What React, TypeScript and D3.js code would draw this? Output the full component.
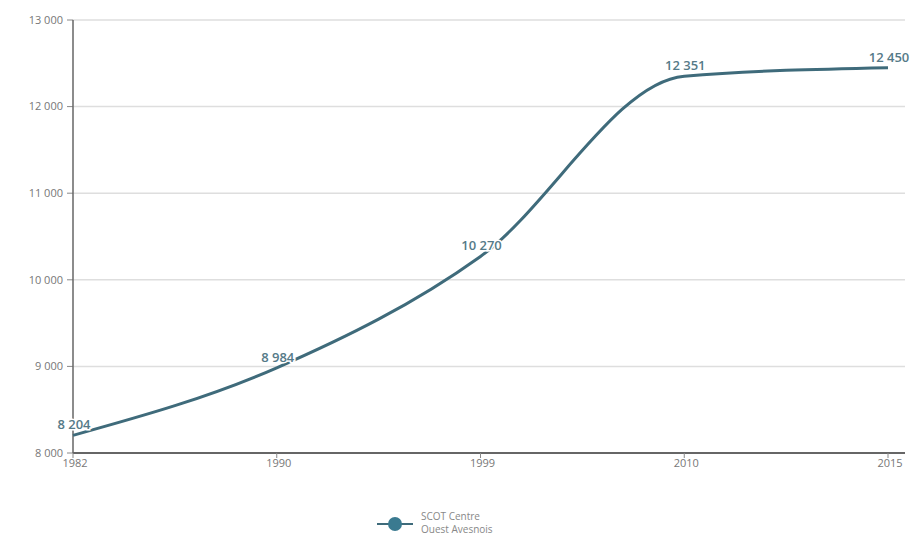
import React from "react";
import * as d3 from "d3";

const years = ["1982", "1990", "1999", "2010", "2015"];
const values = [8204, 8984, 10270, 12351, 12450];
const yTicks = [8000, 9000, 10000, 11000, 12000, 13000];
const seriesName = ["SCOT Centre", "Ouest Avesnois"];

const W = 917;
const H = 542;
const left = 73;
const right = 888;
const top = 20;
const bottom = 453;

const locale = d3.formatLocale({ decimal: ",", thousands: " ", grouping: [3], currency: ["", "€"] });
const fmt = locale.format(",d");

export default function App() {
  const x = d3.scalePoint<string>().domain(years).range([left, right]);
  const y = d3.scaleLinear().domain([8000, 13000]).range([bottom, top]);
  const pts = years.map((yr, i) => ({ yr, v: values[i] }));
  const line = d3
    .line<{ yr: string; v: number }>()
    .x((d) => x(d.yr) as number)
    .y((d) => y(d.v))
    .curve(d3.curveMonotoneX);

  const font = "'Open Sans', Lato, sans-serif";
  return (
    <svg width={W} height={H} style={{ position: "absolute", left: 0, top: 0, background: "#fff" }}>
      {yTicks.map((t) => (
        <g key={t}>
          {t > 8000 && <line x1={left} x2={905} y1={y(t)} y2={y(t)} stroke="#dedede" strokeWidth={1.5} />}
          <line x1={left - 6} x2={left} y1={y(t)} y2={y(t)} stroke="#888" strokeWidth={1} />
          <text x={left - 10} y={y(t)} dy="0.35em" textAnchor="end" fontSize={11} fill="#777" fontFamily={font}>
            {fmt(t)}
          </text>
        </g>
      ))}
      <line x1={left} x2={left} y1={top} y2={bottom} stroke="#666" strokeWidth={1.5} />
      <line x1={left} x2={905} y1={bottom} y2={bottom} stroke="#666" strokeWidth={2} />
      {years.map((yr) => (
        <g key={yr}>
          <line x1={x(yr)} x2={x(yr)} y1={bottom} y2={bottom + 5} stroke="#888" />
          <text x={(x(yr) as number) + 2} y={bottom + 14} textAnchor="middle" fontSize={11} fill="#777" fontFamily={font}>
            {yr}
          </text>
        </g>
      ))}
      <path d={line(pts) || ""} fill="none" stroke="#3f6b7b" strokeWidth={3} strokeLinejoin="round" />
      {pts.map((p) => (
        <text
          key={p.yr}
          x={(x(p.yr) as number) + 1}
          y={y(p.v) - 6}
          textAnchor="middle"
          fontSize={13}
          fontWeight={600}
          fill="#557a88"
          stroke="#fff"
          strokeWidth={3}
          paintOrder="stroke"
          fontFamily={font}
        >
          {fmt(p.v)}
        </text>
      ))}
      <g>
        <line x1={377} x2={413} y1={524} y2={524} stroke="#3f6b7b" strokeWidth={2} />
        <circle cx={395} cy={524} r={7} fill="#3a7a90" />
        <text x={421} y={520} fontSize={10} fill="#888" fontFamily={font}>
          {seriesName[0]}
        </text>
        <text x={421} y={533} fontSize={10} fill="#888" fontFamily={font}>
          {seriesName[1]}
        </text>
      </g>
    </svg>
  );
}
